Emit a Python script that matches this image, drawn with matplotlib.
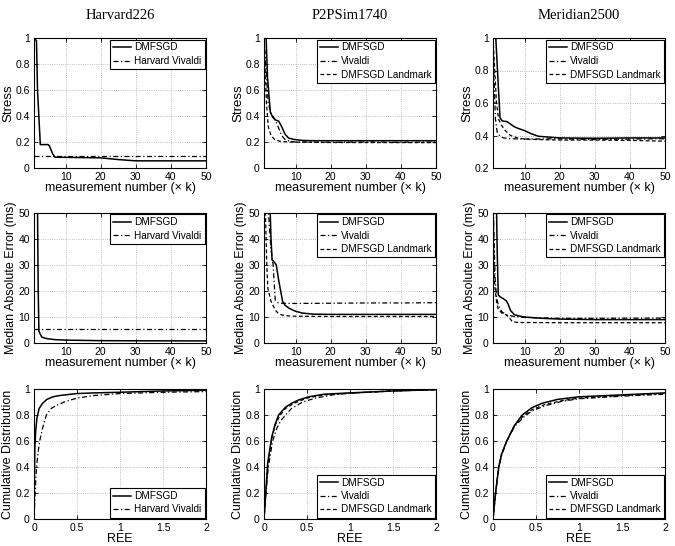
import numpy as np
import matplotlib
matplotlib.use('Agg')
import matplotlib.pyplot as plt
from matplotlib.ticker import FuncFormatter

plt.rcParams['font.family'] = ['Liberation Sans', 'DejaVu Sans']
plt.rcParams['xtick.direction'] = 'in'
plt.rcParams['ytick.direction'] = 'in'

TITLES = ['Harvard226', 'P2PSim1740', 'Meridian2500']
XLAB_MEAS = 'measurement number (\u00d7 k)'

# ---- stress (row 1) ----
h_st_dmf_x = [1, 1.7, 2.0, 2.8, 5.0, 5.4, 6.3, 7.0, 10, 20, 25, 30, 40, 50]
h_st_dmf_y = [1.0, 0.98, 0.6, 0.18, 0.18, 0.17, 0.11, 0.083, 0.082, 0.078, 0.065, 0.055, 0.055, 0.055]
h_st_viv_x = [1, 50]
h_st_viv_y = [0.09, 0.09]

p_st_dmf_x = [1, 1.6, 2.0, 2.8, 3.5, 4.2, 5.2, 6.0, 7.0, 8.0, 9.5, 12, 15, 20, 50]
p_st_dmf_y = [1.0, 1.0, 0.7, 0.43, 0.39, 0.37, 0.36, 0.32, 0.26, 0.23, 0.22, 0.212, 0.21, 0.21, 0.21]
p_st_viv_x = [1, 1.5, 2.2, 3, 4, 5, 6, 7, 8.5, 10, 20, 30, 40, 50]
p_st_viv_y = [1.0, 0.8, 0.5, 0.42, 0.38, 0.32, 0.25, 0.22, 0.205, 0.2, 0.198, 0.2, 0.198, 0.2]
p_st_lm_x = [1, 1.3, 1.7, 2.2, 3, 4, 5.5, 8, 20, 50]
p_st_lm_y = [1.0, 0.8, 0.5, 0.32, 0.25, 0.22, 0.205, 0.2, 0.196, 0.195]

m_st_dmf_x = [1, 1.8, 2.4, 3.0, 3.6, 5, 6, 7, 8, 10, 12, 14, 17, 20, 30, 40, 50]
m_st_dmf_y = [1.0, 1.0, 0.75, 0.51, 0.49, 0.485, 0.47, 0.455, 0.445, 0.43, 0.41, 0.395, 0.39, 0.385, 0.383, 0.385, 0.385]
m_st_viv_x = [1, 1.3, 1.7, 2.2, 3, 4, 6, 10, 20, 30, 40, 50]
m_st_viv_y = [1.0, 0.75, 0.5, 0.42, 0.395, 0.385, 0.38, 0.378, 0.38, 0.375, 0.378, 0.38]
m_st_lm_x = [1, 1.5, 2, 2.6, 3.5, 4.5, 6, 8, 10, 14, 20, 30, 40, 50]
m_st_lm_y = [1.0, 0.8, 0.6, 0.5, 0.46, 0.43, 0.4, 0.385, 0.378, 0.375, 0.372, 0.372, 0.37, 0.365]

# ---- median absolute error (row 2) ----
h_mae_dmf_x = [1, 1.95, 2.2, 2.4, 3.2, 4, 5, 7, 10, 20, 30, 50]
h_mae_dmf_y = [60, 60, 20, 4.5, 2.3, 1.9, 1.6, 1.3, 1.1, 0.9, 0.85, 0.8]
h_mae_viv_x = [1, 50]
h_mae_viv_y = [5.4, 5.4]

p_mae_dmf_x = [1, 2.55, 3.0, 3.3, 4, 4.5, 5.2, 6.3, 7, 8, 9, 10, 12, 15, 20, 50]
p_mae_dmf_y = [60, 60, 40, 32, 31, 30, 24, 16, 14.5, 13.5, 12.8, 12.2, 11.5, 11.1, 11, 11]
p_mae_viv_x = [1, 2.0, 2.5, 3.0, 3.6, 4.2, 5, 6, 10, 20, 30, 40, 50]
p_mae_viv_y = [60, 60, 45, 36, 30, 16.5, 15.5, 15.3, 15.2, 15.3, 15.4, 15.4, 15.5]
p_mae_lm_x = [1, 1.4, 1.8, 2.1, 3, 4.2, 5, 6, 8, 10, 20, 50]
p_mae_lm_y = [60, 50, 30, 21, 16, 12.7, 11.5, 10.8, 10.4, 10.3, 10.2, 10.2]

m_mae_dmf_x = [1, 1.9, 2.2, 2.5, 3, 4, 4.8, 5.3, 6, 7, 8, 10, 15, 20, 30, 50]
m_mae_dmf_y = [60, 60, 35, 18.5, 17.8, 17, 16.2, 15, 12.5, 11, 10.5, 10, 9.5, 9.2, 9, 9]
m_mae_viv_x = [1, 1.3, 1.6, 2.0, 2.5, 3.5, 5, 7, 10, 20, 30, 50]
m_mae_viv_y = [60, 40, 25, 18, 14.5, 12, 10.8, 10.2, 9.8, 9.5, 9.5, 9.6]
m_mae_lm_x = [1, 1.2, 1.5, 2, 2.5, 3.5, 4.5, 5.5, 6.5, 8, 20, 50]
m_mae_lm_y = [60, 40, 22, 16, 13, 11.5, 11, 10, 8.2, 7.9, 7.8, 7.8]

# ---- CDF of REE (row 3) ----
h_cdf_dmf_x = [0, 0.005, 0.01, 0.02, 0.035, 0.06, 0.1, 0.15, 0.22, 0.3, 0.5, 0.7, 1.0, 1.5, 2.0]
h_cdf_dmf_y = [0, 0.3, 0.55, 0.68, 0.78, 0.85, 0.89, 0.92, 0.94, 0.95, 0.965, 0.97, 0.975, 0.985, 0.99]
h_cdf_viv_x = [0, 0.01, 0.02, 0.03, 0.045, 0.066, 0.1, 0.144, 0.2, 0.25, 0.35, 0.5, 0.7, 1.0, 1.5, 2.0]
h_cdf_viv_y = [0, 0.15, 0.3, 0.4, 0.5, 0.6, 0.7, 0.8, 0.85, 0.87, 0.9, 0.93, 0.95, 0.965, 0.975, 0.98]

p_cdf_dmf_x = [0, 0.02, 0.043, 0.09, 0.13, 0.17, 0.25, 0.32, 0.4, 0.52, 0.7, 1.0, 1.5, 2.0]
p_cdf_dmf_y = [0, 0.2, 0.43, 0.63, 0.73, 0.8, 0.86, 0.89, 0.915, 0.94, 0.96, 0.97, 0.985, 0.995]
p_cdf_viv_x = [0, 0.02, 0.05, 0.1, 0.15, 0.2, 0.25, 0.32, 0.45, 0.6, 0.8, 1.0, 1.5, 2.0]
p_cdf_viv_y = [0, 0.17, 0.4, 0.6, 0.7, 0.76, 0.8, 0.85, 0.9, 0.93, 0.955, 0.968, 0.985, 0.995]
p_cdf_lm_x = [0, 0.02, 0.045, 0.09, 0.13, 0.18, 0.25, 0.35, 0.5, 0.7, 1.0, 1.5, 2.0]
p_cdf_lm_y = [0, 0.19, 0.42, 0.62, 0.72, 0.79, 0.85, 0.89, 0.93, 0.955, 0.968, 0.985, 0.995]

m_cdf_dmf_x = [0, 0.03, 0.066, 0.1, 0.16, 0.25, 0.34, 0.45, 0.57, 0.75, 1.0, 1.5, 2.0]
m_cdf_dmf_y = [0, 0.2, 0.4, 0.5, 0.6, 0.72, 0.8, 0.855, 0.89, 0.92, 0.94, 0.955, 0.97]
m_cdf_viv_x = [0, 0.03, 0.07, 0.1, 0.16, 0.25, 0.35, 0.45, 0.6, 0.8, 1.0, 1.5, 2.0]
m_cdf_viv_y = [0, 0.2, 0.4, 0.49, 0.6, 0.71, 0.78, 0.83, 0.87, 0.905, 0.925, 0.945, 0.96]
m_cdf_lm_x = [0, 0.03, 0.066, 0.1, 0.16, 0.25, 0.35, 0.45, 0.6, 0.8, 1.0, 1.5, 2.0]
m_cdf_lm_y = [0, 0.2, 0.4, 0.5, 0.6, 0.72, 0.79, 0.84, 0.88, 0.91, 0.93, 0.95, 0.965]

fig = plt.figure(figsize=(6.75, 5.46), dpi=100)

lefts = [34/675., 264/675., 493/675.]
bottoms = [1 - 168/546., 1 - 343/546., 1 - 519/546.]
w = 172/675.
h = 130/546.

def fmt(v, pos):
    return '%g' % v

def style(ax):
    ax.grid(True, linestyle=':', color='#aaaaaa', linewidth=0.6)
    ax.tick_params(labelsize=7.5, length=3, width=0.6, top=True, right=True, pad=3)
    for sp in ax.spines.values():
        sp.set_linewidth(0.8)
    ax.xaxis.set_major_formatter(FuncFormatter(fmt))
    ax.yaxis.set_major_formatter(FuncFormatter(fmt))

def leg(ax, labels, loc):
    l = ax.legend(labels, loc=loc, fontsize=7.2, fancybox=False, edgecolor='black',
                  framealpha=1, borderpad=0.3, labelspacing=0.35, handlelength=1.8,
                  handletextpad=0.3, borderaxespad=0.15)
    l.get_frame().set_linewidth(0.8)

rows = [
    [(h_st_dmf_x, h_st_dmf_y, h_st_viv_x, h_st_viv_y, None, None),
     (p_st_dmf_x, p_st_dmf_y, p_st_viv_x, p_st_viv_y, p_st_lm_x, p_st_lm_y),
     (m_st_dmf_x, m_st_dmf_y, m_st_viv_x, m_st_viv_y, m_st_lm_x, m_st_lm_y)],
    [(h_mae_dmf_x, h_mae_dmf_y, h_mae_viv_x, h_mae_viv_y, None, None),
     (p_mae_dmf_x, p_mae_dmf_y, p_mae_viv_x, p_mae_viv_y, p_mae_lm_x, p_mae_lm_y),
     (m_mae_dmf_x, m_mae_dmf_y, m_mae_viv_x, m_mae_viv_y, m_mae_lm_x, m_mae_lm_y)],
    [(h_cdf_dmf_x, h_cdf_dmf_y, h_cdf_viv_x, h_cdf_viv_y, None, None),
     (p_cdf_dmf_x, p_cdf_dmf_y, p_cdf_viv_x, p_cdf_viv_y, p_cdf_lm_x, p_cdf_lm_y),
     (m_cdf_dmf_x, m_cdf_dmf_y, m_cdf_viv_x, m_cdf_viv_y, m_cdf_lm_x, m_cdf_lm_y)],
]

for r in range(3):
    for c in range(3):
        ax = fig.add_axes([lefts[c], bottoms[r], w, h])
        dx, dy, vx, vy, lx, ly = rows[r][c]
        ax.plot(dx, dy, 'k-', lw=1.1)
        ax.plot(vx, vy, color='k', lw=0.9, dashes=[4, 2, 1, 2])
        if lx is not None:
            ax.plot(lx, ly, 'k--', lw=0.9, dashes=[3, 2])
            labels = ['DMFSGD', 'Vivaldi', 'DMFSGD Landmark']
        else:
            labels = ['DMFSGD', 'Harvard Vivaldi']
        style(ax)
        if r < 2:
            ax.set_xlim(1, 50)
            ax.set_xticks([10, 20, 30, 40, 50])
            ax.set_xlabel(XLAB_MEAS, fontsize=9, labelpad=0)
            leg(ax, labels, 'upper right')
        else:
            ax.set_xlim(0, 2)
            ax.set_xticks([0, 0.5, 1, 1.5, 2])
            ax.set_ylim(0, 1)
            ax.set_yticks(np.arange(0, 1.01, 0.2))
            ax.set_xlabel('REE', fontsize=9, labelpad=0)
            ax.set_ylabel('Cumulative Distribution', fontsize=9, labelpad=1)
            leg(ax, labels, 'lower right')
        if r == 0:
            if c == 2:
                ax.set_ylim(0.2, 1)
                ax.set_yticks([0.2, 0.4, 0.6, 0.8, 1])
            else:
                ax.set_ylim(0, 1)
                ax.set_yticks(np.arange(0, 1.01, 0.2))
            ax.set_ylabel('Stress', fontsize=9.5, labelpad=1)
            ax.set_title(TITLES[c], fontsize=10.5, family='Liberation Serif', pad=14)
        if r == 1:
            ax.set_ylim(0, 50)
            ax.set_yticks([0, 10, 20, 30, 40, 50])
            ax.set_ylabel('Median Absolute Error (ms)', fontsize=9, labelpad=1)

fig.savefig('out.png', dpi=100)
